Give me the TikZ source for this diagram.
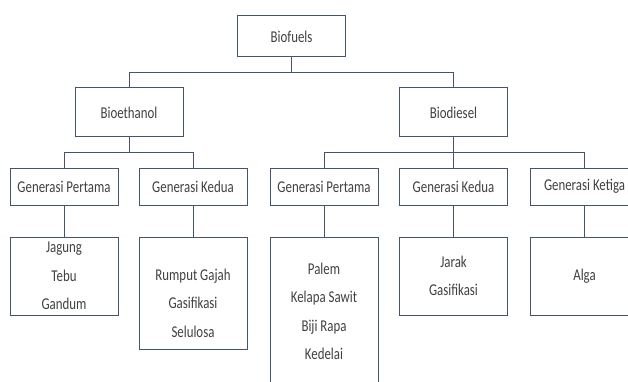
\documentclass[tikz,border=0pt]{standalone}
\usepackage{fontspec}
\setmainfont{Carlito}[FakeStretch=0.78]
\usepackage{xcolor}
\definecolor{boxline}{HTML}{44546A}
\definecolor{boxtext}{HTML}{404040}

\begin{document}
\begin{tikzpicture}[x=1pt, y=-1pt,
		box/.style={draw=boxline, line width=1pt, rectangle, inner sep=0pt, text=boxtext, align=center,
			font=\fontsize{16.5}{28.5}\selectfont, minimum width=108pt},
		link/.style={draw=boxline, line width=1pt}]
				\useasboundingbox (0, 0) rectangle (628, 382);
				\node[box, minimum height=41pt] (biofuels) at (291.5, 36.5) {Biofuels};
				\node[box, minimum height=49pt] (bioethanol) at (129, 112.5) {Bioethanol};
				\node[box, minimum height=49pt] (biodiesel) at (453.5, 112.5) {Biodiesel};
				\node[box, minimum height=37pt] (pertamaA) at (64, 186.5) {Generasi Pertama};
				\node[box, minimum height=37pt] (keduaA) at (193, 186.5) {Generasi Kedua};
				\node[box, minimum height=37pt] (pertamaB) at (324, 186.5) {Generasi Pertama};
				\node[box, minimum height=37pt] (keduaB) at (453.5, 186.5) {Generasi Kedua};
				\node[box, minimum height=37pt] (ketigaB) at (584.5, 186.5) {Generasi Ketiga};
				\node[box, minimum height=78pt] (jagung) at (64, 276) {Jagung\\Tebu\\Gandum};
				\node[box, minimum height=112pt] (rumput) at (193, 293) {\rule{0pt}{32pt}Rumput Gajah\\Gasifikasi\\Selulosa};
				\node[box, minimum height=149pt] (palem) at (324, 311.5) {Palem\\Kelapa Sawit\\Biji Rapa\\Kedelai};
				\node[box, minimum height=78pt] (jarak) at (453.5, 276) {Jarak\\Gasifikasi};
				\node[box, minimum height=78pt] (alga) at (584.5, 276) {Alga};
				\draw[link] (biofuels.south) -- ++(0, 15) -| (bioethanol.north);
				\draw[link] (biofuels.south) -- ++(0, 15) -| (biodiesel.north);
				\draw[link] (bioethanol.south) -- ++(0, 15) -| (pertamaA.north);
				\draw[link] (bioethanol.south) -- ++(0, 15) -| (keduaA.north);
				\draw[link] (biodiesel.south) -- ++(0, 15) -| (pertamaB.north);
				\draw[link] (biodiesel.south) -- ++(0, 15) -| (keduaB.north);
				\draw[link] (biodiesel.south) -- ++(0, 15) -| (ketigaB.north);
				\draw[link] (pertamaA) -- (jagung);
				\draw[link] (keduaA) -- (rumput);
				\draw[link] (pertamaB) -- (palem);
				\draw[link] (keduaB) -- (jarak);
				\draw[link] (ketigaB) -- (alga);
			\end{tikzpicture}
\end{document}
